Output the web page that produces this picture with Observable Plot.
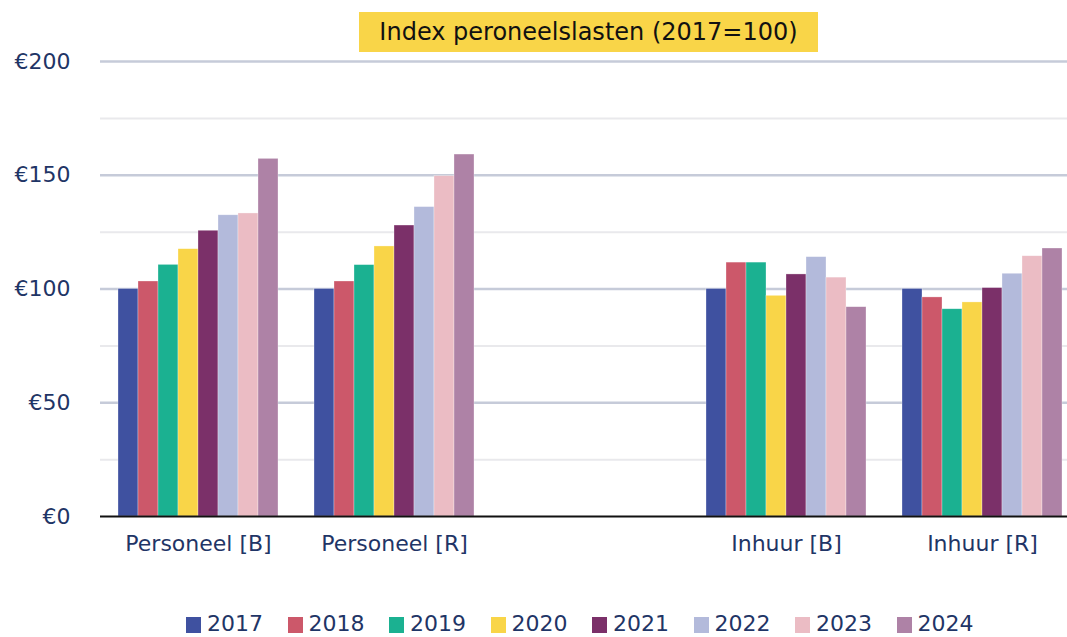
<!DOCTYPE html>
<html><head><meta charset="utf-8">
<script src="https://cdn.jsdelivr.net/npm/d3@7"></script>
<script src="https://cdn.jsdelivr.net/npm/@observablehq/plot@0.6"></script>
<style>
html,body{margin:0;padding:0;background:#fff;overflow:hidden;width:1067px;height:637px}
#wrap{position:relative;width:1067px;height:637px;font-family:"DejaVu Sans",sans-serif;overflow:hidden}
#title{position:absolute;left:359px;top:12px;width:459px;height:40px;background:#f9d548;color:#111;font-size:24px;line-height:40px;text-align:center}
#chart{position:absolute;left:0;top:0}
#chart svg{max-width:none}
#legend{position:absolute;left:0;top:611px;width:1067px;height:25px}
.item{position:absolute;top:0;height:25px;font-size:22px;color:#1f3566;line-height:25px;white-space:nowrap}
.sw{position:absolute;top:6px;left:0;width:15px;height:16px}
.lb{position:absolute;left:21px;top:0}
</style></head>
<body><div id="wrap"><div id="chart"></div><div id="title">Index peroneelslasten (2017=100)</div><div id="legend"></div></div>
<script>
const categories = ["Personeel [B]", "Personeel [R]", "", "Inhuur [B]", "Inhuur [R]"];
const years = ["2017","2018","2019","2020","2021","2022","2023","2024"];
const colors = ["#3f51a0","#cc586a","#1bb191","#f9d548","#7b3069","#b3badb","#ebbcc4","#ae82a6"];
const personeelB = [100, 103.3, 110.6, 117.5, 125.6, 132.4, 133.2, 157.2];
const personeelR = [100, 103.3, 110.5, 118.7, 127.9, 136.0, 149.6, 159.1];
const inhuurB    = [100, 111.6, 111.6, 97.0, 106.4, 114.0, 105.0, 92.0];
const inhuurR    = [100, 96.3, 91.1, 94.1, 100.4, 106.7, 114.4, 117.8];
const yTicks = [0, 50, 100, 150, 200];
const yMinor = [25, 75, 125, 175];

const series = [["Personeel [B]", personeelB], ["Personeel [R]", personeelR], ["Inhuur [B]", inhuurB], ["Inhuur [R]", inhuurR]];
const data = series.flatMap(([cat, vals]) => vals.map((v, i) => ({cat, year: years[i], value: v})));
const placeholder = [{cat: "", year: years[0], value: 0}];
const navy = "#1f3566";

const plot = Plot.plot({
  width: 1080, height: 572,
  marginLeft: 100, marginRight: 0, marginTop: 61, marginBottom: 56,
  style: {fontFamily: "'DejaVu Sans', sans-serif", fontSize: "22px", color: navy, background: "transparent"},
  fx: {domain: categories, paddingInner: 0, paddingOuter: 0, label: null, axis: "bottom", tickSize: 0, tickPadding: 19},
  x: {domain: years, paddingInner: 0, paddingOuter: 0.74, axis: null},
  y: {domain: [0, 200], ticks: yTicks, tickFormat: d => "€" + d, tickSize: 0, tickPadding: 30, label: null},
  color: {domain: years, range: colors},
  marks: [
    Plot.barY(placeholder, {fx: "cat", x: "year", y: "value", fill: "none"}),
    Plot.ruleY(yMinor, {stroke: "#e9e9ec", strokeWidth: 2}),
    Plot.ruleY(yTicks.filter(d => d > 0), {stroke: "#c6cbd9", strokeWidth: 2.5}),
    Plot.barY(data, {fx: "cat", x: "year", y: "value", fill: "year", stroke: "#ffffff", strokeOpacity: 0.5, strokeWidth: 0.6}),
    Plot.ruleY([0], {stroke: "#111", strokeWidth: 2})
  ]
});
document.getElementById("chart").appendChild(plot);

const legend = document.getElementById("legend");
years.forEach((y, i) => {
  const it = document.createElement("div");
  it.className = "item";
  it.style.left = (186 + i * 101.5) + "px";
  it.innerHTML = `<span class="sw" style="background:${colors[i]}"></span><span class="lb">${y}</span>`;
  legend.appendChild(it);
});
</script></body></html>
